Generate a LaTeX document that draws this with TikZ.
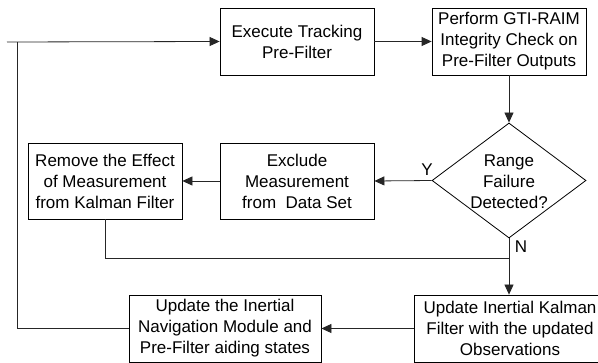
\documentclass[tikz,border=0pt]{standalone}
\usepackage{fontspec}
\setmainfont{Liberation Sans}
\usetikzlibrary{shapes.geometric,arrows.meta}
\begin{document}
\begin{tikzpicture}[x=1pt,y=-1pt,
  font=\fontsize{17}{21}\selectfont,
  box/.style={draw=black, line width=0.8pt, fill=white, align=center, inner sep=0pt, minimum width=154pt, minimum height=67pt},
  wbox/.style={box, minimum width=192pt},
  conn/.style={draw=black!85, line width=0.8pt},
  arr/.style={conn, -{Triangle[length=10pt,width=9pt]}},
  lbl/.style={inner sep=0pt}
]
\clip (0,0) rectangle (598,363);
\fill[white] (0,0) rectangle (598,363);
\coordinate (in) at (7,42);
\coordinate (jt) at (17,42);
\node[box] (exec) at (297,41.5) {Execute Tracking\\Pre-Filter};
\node[box] (raim) at (509,41.5) {Perform GTI-RAIM\\Integrity Check on\\Pre-Filter Outputs};
\node[diamond, draw=black, line width=0.8pt, minimum width=154pt, minimum height=115pt, inner sep=0pt] (dec) at (509,180.5) {};
\node[align=center, inner sep=0pt] (dect) at (509,182) {Range\\Failure\\Detected?};
\node[box, minimum height=76pt] (excl) at (297,181) {Exclude\\Measurement\\from\ \ Data Set};
\node[box, minimum height=76pt] (rem) at (105,181) {Remove the Effect\\of Measurement\\from Kalman Filter};
\node[wbox] (kal) at (510,328.5) {Update Inertial Kalman\\Filter with the updated\\Observations};
\node[wbox] (nav) at (225,328.5) {Update the Inertial\\Navigation Module and\\Pre-Filter aiding states};
\coordinate (mg) at (509,258);
\coordinate (bl) at (17,328.5);
\node[lbl] (ly) at (427,170) {Y};
\node[lbl] (ln) at (521,247) {N};

\draw[arr] (in) -- (exec.west);
\draw[arr] (exec.east) -- (raim.west);
\draw[arr] (raim.south) -- (dec.north);
\draw[arr] (dec.west) -- (excl.east);
\draw[arr] (excl.west) -- (rem.east);
\draw[arr] (dec.south) -- (dec.south |- kal.north);
\draw[conn] (rem.south) |- (mg);
\draw[arr] (kal.west) -- (nav.east);
\draw[conn] (nav.west) -- (bl) -- (jt);
\end{tikzpicture}
\end{document}
